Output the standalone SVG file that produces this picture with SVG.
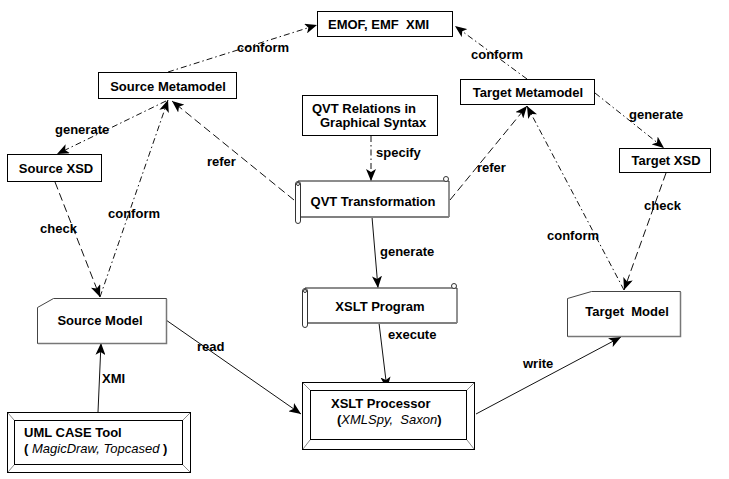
<svg xmlns="http://www.w3.org/2000/svg" width="729" height="479" viewBox="0 0 729 479">
<style>
.bx{fill:#fff;stroke:#000;stroke-width:1}
.t{font-family:"Liberation Sans",Arial,sans-serif;font-size:13px;font-weight:bold;fill:#000;white-space:pre}
.i{font-weight:normal;font-style:italic}
.l{font-family:"Liberation Sans",Arial,sans-serif;font-size:13px;font-weight:bold;fill:#000}
.e{fill:none;stroke:#111;stroke-width:1}
.dd{stroke-dasharray:6 3 1.5 3}
.ds{stroke-dasharray:8 4}
.bev{stroke:#888;stroke-width:1}
.gr{fill:none;stroke:#808080;stroke-width:2}
.rl{fill:#fff;stroke:#333;stroke-width:1}
</style>
<defs>
<marker id="ah" viewBox="0 0 12 10" refX="12" refY="5" markerWidth="12" markerHeight="10" markerUnits="userSpaceOnUse" orient="auto">
<path d="M0,0 L12,5 L0,10 L3,5 z" fill="#000"/>
</marker>
</defs>
<rect width="729" height="479" fill="#fff"/>

<g id="connectors">
<path class="e dd" d="M168,72 L317,25" marker-end="url(#ah)"/>
<path class="e dd" d="M527,79 L455,26" marker-end="url(#ah)"/>
<path class="e dd" d="M166,101 L57,154" marker-end="url(#ah)"/>
<path class="e dd" d="M100,297 L168,100" marker-end="url(#ah)"/>
<path class="e ds" d="M55,182 L100,297" marker-end="url(#ah)"/>
<path class="e ds" d="M294,200 L172,101" marker-end="url(#ah)"/>
<path class="e dd" d="M371,136 L371,181" marker-end="url(#ah)"/>
<path class="e ds" d="M450,200 L527,106" marker-end="url(#ah)"/>
<path class="e dd" d="M595,93 L664,148" marker-end="url(#ah)"/>
<path class="e dd" d="M624,290 L527,106" marker-end="url(#ah)"/>
<path class="e ds" d="M666,173 L624,290" marker-end="url(#ah)"/>
<path class="e" d="M372,217 L378,288" marker-end="url(#ah)"/>
<path class="e" d="M379,323 L387,389" marker-end="url(#ah)"/>
<path class="e" d="M166,320 L301,414" marker-end="url(#ah)"/>
<path class="e" d="M98,412 L101,343" marker-end="url(#ah)"/>
<path class="e" d="M476,414 L621,337" marker-end="url(#ah)"/>
<text class="l" x="237" y="52">conform</text>
<text class="l" x="471" y="59">conform</text>
<text class="l" x="55" y="134">generate</text>
<text class="l" x="207" y="166">refer</text>
<text class="l" x="108" y="218">conform</text>
<text class="l" x="40" y="233">check</text>
<text class="l" x="376" y="157">specify</text>
<text class="l" x="477" y="172">refer</text>
<text class="l" x="629" y="119">generate</text>
<text class="l" x="644" y="210">check</text>
<text class="l" x="547" y="240">conform</text>
<text class="l" x="380" y="256">generate</text>
<text class="l" x="388" y="339">execute</text>
<text class="l" x="197" y="351">read</text>
<text class="l" x="102" y="383">XMI</text>
<text class="l" x="523" y="368">write</text>
</g>

<g id="emof">
<rect class="bx" x="317.5" y="11.5" width="135" height="25"/>
<text class="t" x="328" y="29">EMOF, EMF  XMI</text>
</g>

<g id="source-metamodel">
<rect class="bx" x="98.5" y="72.5" width="138" height="26"/>
<text class="t" x="168" y="91" text-anchor="middle">Source Metamodel</text>
</g>

<g id="target-metamodel">
<rect class="bx" x="460.5" y="79.5" width="134" height="25"/>
<text class="t" x="528" y="97" text-anchor="middle">Target Metamodel</text>
</g>

<g id="source-xsd">
<rect class="bx" x="7.5" y="154.5" width="94" height="27"/>
<text class="t" x="56" y="173" text-anchor="middle">Source XSD</text>
</g>

<g id="target-xsd">
<rect class="bx" x="619.5" y="148.5" width="91" height="24"/>
<text class="t" x="666" y="165" text-anchor="middle">Target XSD</text>
</g>

<g id="qvt-relations">
<rect class="bx" x="302.5" y="95.5" width="135" height="40"/>
<text class="t" x="312" y="113">QVT Relations in</text>
<text class="t" x="320" y="127">Graphical Syntax</text>
</g>

<g id="qvt-transformation">
<rect x="298" y="181" width="151" height="36" fill="#fff"/>
<path d="M298,181 H449" fill="none" stroke="#666" stroke-width="1.5"/>
<path d="M449,181 V217" fill="none" stroke="#222" stroke-width="1"/>
<path class="gr" d="M301,217 H449"/>
<rect class="rl" x="295.5" y="181.5" width="5" height="42" rx="2.5"/>
<circle class="rl" cx="298" cy="184" r="1.5"/>
<circle class="rl" cx="446" cy="179" r="2.5"/>
<text class="t" x="373" y="206" text-anchor="middle">QVT Transformation</text>
</g>

<g id="xslt-program">
<rect x="305" y="288" width="152" height="35" fill="#fff"/>
<path d="M305,288 H457" fill="none" stroke="#666" stroke-width="1.5"/>
<path d="M457,288 V323" fill="none" stroke="#222" stroke-width="1"/>
<path class="gr" d="M308,323 H457"/>
<rect class="rl" x="302.5" y="288.5" width="5" height="39" rx="2.5"/>
<circle class="rl" cx="305" cy="291" r="1.5"/>
<circle class="rl" cx="454" cy="286" r="2.5"/>
<text class="t" x="380" y="311" text-anchor="middle">XSLT Program</text>
</g>

<g id="source-model">
<polygon points="37.5,307.5 53.5,298.5 166.5,298.5 166.5,343.5 37.5,343.5" fill="#fff" stroke="#444" stroke-width="1"/>
<path d="M166.5,299 V343.5 H38" fill="none" stroke="#777" stroke-width="1.5"/>
<text class="t" x="100" y="325" text-anchor="middle">Source Model</text>
</g>

<g id="target-model">
<polygon points="567.5,298.5 591.5,291.5 680.5,291.5 680.5,336.5 567.5,336.5" fill="#fff" stroke="#444" stroke-width="1"/>
<path d="M680.5,292 V336.5 H568" fill="none" stroke="#777" stroke-width="1.5"/>
<text class="t" x="627" y="316" text-anchor="middle">Target  Model</text>
</g>

<g id="xslt-processor">
<rect class="bx" x="302.5" y="382.5" width="172" height="67"/>
<rect class="bx" x="310.5" y="390.5" width="156" height="49"/>
<path class="bev" d="M303,383 L310,390 M474,383 L467,390 M303,449 L310,440 M474,449 L467,440"/>
<text class="t" x="331" y="408">XSLT Processor</text>
<text class="t" x="337" y="424">(<tspan class="i">XMLSpy,  Saxon</tspan>)</text>
</g>

<g id="uml-case-tool">
<rect class="bx" x="7.5" y="412.5" width="183" height="60"/>
<rect class="bx" x="14.5" y="420.5" width="168" height="44"/>
<path class="bev" d="M8,413 L14,420 M190,413 L183,420 M8,472 L14,465 M190,472 L183,465"/>
<text class="t" x="24" y="437">UML CASE Tool</text>
<text class="t" x="24" y="453">( <tspan class="i">MagicDraw, Topcased</tspan> )</text>
</g>
</svg>
